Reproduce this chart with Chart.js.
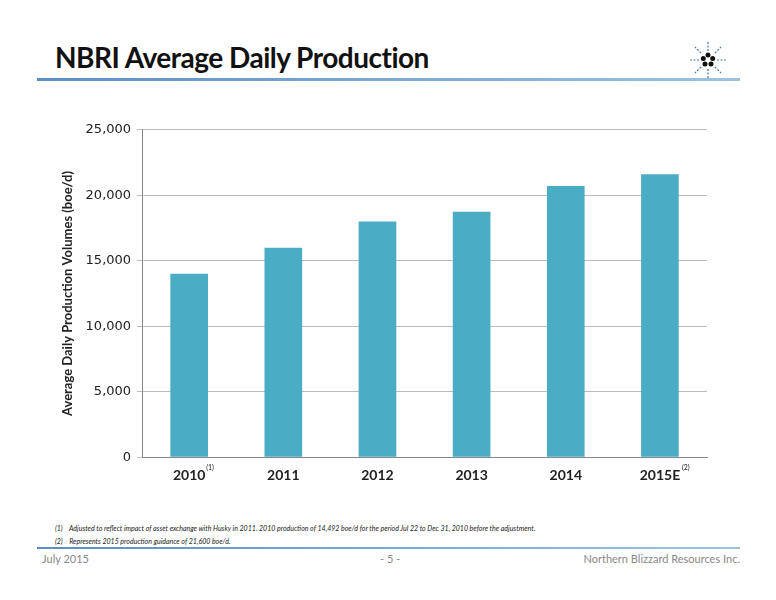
<!DOCTYPE html>
<html><head><meta charset="utf-8">
<script src="https://cdn.jsdelivr.net/npm/chart.js@4"></script>
<style>
body{margin:0;width:776px;height:600px;position:relative;background:#fff;font-family:Lato,sans-serif;overflow:hidden}
.t{position:absolute;left:55px;top:40px;font-size:28px;font-weight:bold;color:#111;letter-spacing:-0.5px}
.ln{position:absolute;left:37px;width:703px;height:3px;background:linear-gradient(90deg,#5b8fc4,#9cc3e2)}
.fn{position:absolute;left:55px;font-size:7px;font-style:italic;color:#222}
.ft{position:absolute;top:552px;font-size:11px;color:#888}
#wrap{position:absolute;left:60px;top:116px;width:665px;height:378px}
</style></head><body>
<div class="t">NBRI Average Daily Production</div>
<svg style="position:absolute;left:688px;top:40px" width="40" height="40" viewBox="-20 -20 40 40">
<g fill="#111"><circle r="2.5" cx="0" cy="-5"/><circle r="2.5" cx="4.7" cy="-1.5"/><circle r="2.5" cx="3" cy="4"/><circle r="2.5" cx="-3" cy="4"/><circle r="2.5" cx="-4.7" cy="-1.5"/></g>
<g stroke="#3b78b5" stroke-width="1.2" stroke-dasharray="2,1.5"><line x1="0" y1="-9" x2="0" y2="-18"/><line x1="0" y1="9" x2="0" y2="18"/><line x1="-9" y1="0" x2="-18" y2="0"/><line x1="9" y1="0" x2="18" y2="0"/><line x1="7" y1="-7" x2="13" y2="-13"/><line x1="-7" y1="-7" x2="-13" y2="-13"/><line x1="7" y1="7" x2="13" y2="13"/><line x1="-7" y1="7" x2="-13" y2="13"/></g>
</svg>
<div class="ln" style="top:78px"></div>
<div id="wrap"><canvas id="c"></canvas></div>
<div class="fn" style="top:524px">(1)&nbsp;&nbsp;&nbsp; Adjusted to reflect impact of asset exchange with Husky in 2011. 2010 production of 14,492 boe/d for the period Jul 22 to Dec 31, 2010 before the adjustment.</div>
<div class="fn" style="top:537px">(2)&nbsp;&nbsp;&nbsp; Represents 2015 production guidance of 21,600 boe/d.</div>
<div class="ln" style="top:547px;height:2px"></div>
<div class="ft" style="left:42px">July 2015</div>
<div class="ft" style="left:380px">- 5 -</div>
<div class="ft" style="right:36px">Northern Blizzard Resources Inc.</div>
<script>
const categories=['2010','2011','2012','2013','2014','2015E'];
const production=[14000,16000,18000,18750,20700,21600];
const notes=['(1)','','','','','(2)'];
const supPlugin={id:'sup',afterDraw(ch){const x=ch.scales.x,c=ch.ctx;c.save();c.font='7px Lato';c.fillStyle='#222';
categories.forEach((k,i)=>{if(!notes[i])return;const px=x.getPixelForTick(i);c.fillText(notes[i],px+(k.length>4?22:17),x.top+13);});c.restore();}};
new Chart(document.getElementById('c'),{type:'bar',
data:{labels:categories,datasets:[{data:production,backgroundColor:'#4bacc6',categoryPercentage:1,barPercentage:0.4}]},
options:{responsive:true,maintainAspectRatio:false,animation:false,
layout:{padding:{top:6,right:18}},
plugins:{legend:{display:false},tooltip:{enabled:false}},
scales:{
x:{grid:{display:false,drawTicks:false},border:{color:'#888'},ticks:{padding:10,color:'#222',font:{family:'Lato',size:14,weight:'bold'}}},
y:{min:0,max:25000,ticks:{stepSize:5000,padding:6,color:'#222',font:{family:'DejaVu Sans',size:13}},
grid:{color:'#bbb',drawTicks:true,tickLength:5},border:{color:'#888'},
title:{display:true,text:'Average Daily Production Volumes (boe/d)',padding:{top:0,bottom:4},color:'#222',font:{family:'Lato',size:13,weight:'bold'}}}}},
plugins:[supPlugin]});
</script>
</body></html>
